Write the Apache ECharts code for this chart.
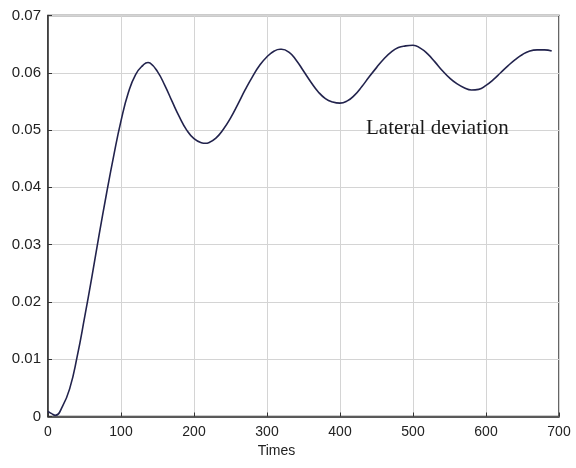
<!DOCTYPE html>
<html><head><meta charset="utf-8">
<script src="https://cdn.jsdelivr.net/npm/echarts@6/dist/echarts.min.js"></script>
<style>html,body{margin:0;padding:0;background:#fff}#c{width:576px;height:468px}</style>
</head><body><div id="c"></div>
<script>
var times = [0,5,10,20,30,40,50,60,70,80,90,100,110,120,130,137,140,150,160,170,180,190,200,210,216,220,230,240,250,260,270,280,290,300,310,318,320,330,340,350,360,370,380,390,400,410,420,430,440,450,460,470,480,490,500,510,520,530,540,550,560,570,580,590,600,610,620,630,640,650,660,670,680,690];
var deviation = [0.0009,0.0005,0.0002,0.0018,0.0050,0.0105,0.0172,0.0243,0.0317,0.0388,0.0455,0.0516,0.0565,0.0597,0.0613,0.0618,0.0617,0.0602,0.0578,0.0550,0.0523,0.0500,0.0485,0.0478,0.0477,0.0478,0.0486,0.0501,0.0521,0.0545,0.0570,0.0593,0.0613,0.0628,0.0638,0.0641,0.0641,0.0636,0.0622,0.0603,0.0584,0.0567,0.0555,0.0549,0.0547,0.0551,0.0561,0.0576,0.0593,0.0609,0.0624,0.0636,0.0644,0.0647,0.0648,0.0643,0.0633,0.0619,0.0604,0.0591,0.0581,0.0574,0.0570,0.0571,0.0578,0.0588,0.0600,0.0612,0.0623,0.0632,0.0638,0.0640,0.0640,0.0638];
var xTicks = [0,100,200,300,400,500,600,700];
var yTicks = [0,0.01,0.02,0.03,0.04,0.05,0.06,0.07];
var xName = 'Times';
var annotation = 'Lateral deviation';

var pts = times.map(function(t,i){return [t, deviation[i]];});
var chart = echarts.init(document.getElementById('c'));
var lab = {color:'#222', fontFamily:'Liberation Sans, Arial, sans-serif', fontSize:14};
chart.setOption({
  animation:false,
  backgroundColor:'#fff',
  grid:{left:48, right:17, top:15.5, bottom:51.5, show:true, borderColor:'#333', borderWidth:1.5},
  xAxis:{type:'value', min:xTicks[0], max:xTicks[xTicks.length-1], interval:100,
    name:xName, nameLocation:'middle', nameGap:26,
    nameTextStyle:Object.assign({}, lab, {padding:[0,54,0,0]}),
    axisLine:{show:true, lineStyle:{color:'#333', width:1.5}},
    axisTick:{show:true, inside:true, length:4, lineStyle:{color:'#333'}},
    axisLabel:Object.assign({}, lab, {margin:9, formatter:function(v){return String(v);}}),
    splitLine:{show:true, lineStyle:{color:'#d4d4d4', width:1}}},
  yAxis:{type:'value', min:yTicks[0], max:yTicks[yTicks.length-1], interval:0.01,
    axisLine:{show:true, lineStyle:{color:'#333', width:1.5}},
    axisTick:{show:true, inside:true, length:4, lineStyle:{color:'#333'}},
    axisLabel:Object.assign({}, lab, {fontSize:15, margin:7, formatter:function(v){return v===0?'0':v.toFixed(2);}}),
    splitLine:{show:true, lineStyle:{color:'#d4d4d4', width:1}}},
  graphic:[{type:'text', x:366, y:128, z:100, style:{text:annotation, fill:'#1a1a1a', fontSize:21, fontFamily:'Liberation Serif', verticalAlign:'middle', align:'left'}}],
  series:[{type:'line', data:pts, smooth:0.5, showSymbol:false, symbol:'none',
    lineStyle:{color:'#22234d', width:1.6}}]
});
</script></body></html>
